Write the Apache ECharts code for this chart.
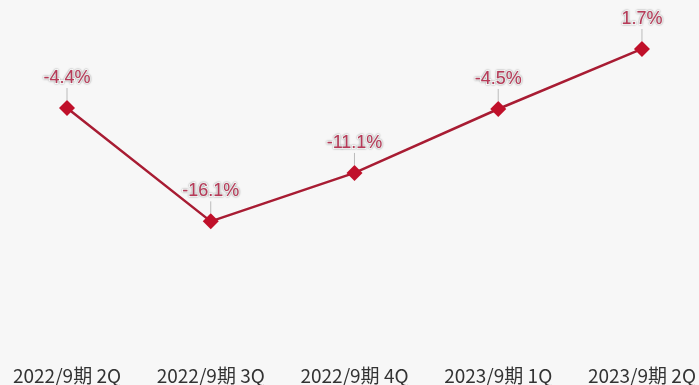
<!DOCTYPE html>
<html>
<head>
<meta charset="utf-8">
<script src="https://cdn.jsdelivr.net/npm/echarts@6/dist/echarts.min.js"></script>
<style>
  html, body { margin: 0; padding: 0; background: #f7f7f7; }
  #chart { width: 699px; height: 385px; }
</style>
</head>
<body>
<div id="chart"></div>
<script>
// Quarterly growth rate (%)
const categories = ['2022/9期 2Q', '2022/9期 3Q', '2022/9期 4Q', '2023/9期 1Q', '2023/9期 2Q'];
const growth = [-4.4, -16.1, -11.1, -4.5, 1.7];

const chart = echarts.init(document.getElementById('chart'));
chart.setOption({
  backgroundColor: '#f7f7f7',
  animation: false,
  grid: { left: 67, right: 56, top: 17, bottom: 27 },
  xAxis: {
    type: 'category',
    data: categories,
    boundaryGap: false,
    axisLine: { show: false },
    axisTick: { show: false },
    axisLabel: {
      color: '#333',
      fontSize: 19,
      fontFamily: '"Noto Sans CJK JP", sans-serif',
      margin: 10,
      interval: 0
    }
  },
  yAxis: {
    type: 'value',
    min: -30,
    max: 5,
    show: false,
    splitLine: { show: false }
  },
  series: [{
    type: 'line',
    data: growth,
    symbol: 'diamond',
    symbolSize: 16,
    itemStyle: { color: '#c0102a' },
    lineStyle: { color: '#a81c33', width: 2.5 },
    label: {
      show: true,
      position: 'top',
      distance: 5,
      formatter: p => p.value.toFixed(1) + '%',
      color: '#b83a58',
      fontSize: 18,
      fontFamily: '"Liberation Sans", Arial, sans-serif',
      textBorderColor: '#ffffff',
      textBorderWidth: 2,
      textShadowColor: 'rgba(0,0,0,0.35)',
      textShadowBlur: 2
    },
    labelLayout: { dy: -8 },
    labelLine: {
      show: true,
      lineStyle: { color: '#bbbbbb', width: 1 }
    }
  }]
});
</script>
</body>
</html>
